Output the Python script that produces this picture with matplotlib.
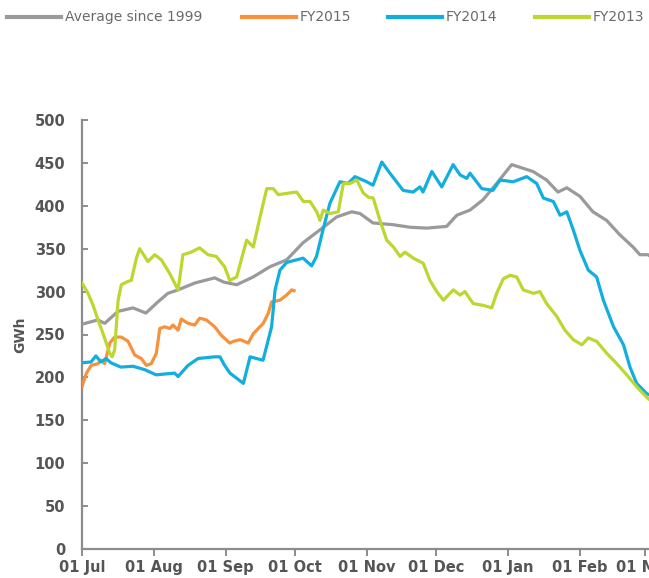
import matplotlib.pyplot as plt
from matplotlib.lines import Line2D

# days counted from 01 Jul
avg_days = [0, 6.9, 9.8, 15.6, 22, 27.6, 32.8, 37.1, 41.5, 48.7, 57.3, 61.3, 66.8, 73.9,
            81.2, 88.4, 95.5, 102.8, 110, 116.5, 120.1, 125.7, 134.3, 141.7, 148.9, 157.5,
            161.9, 167.6, 173.2, 179.1, 185.6, 194.8, 200.7, 205.6, 209.4, 215.1, 220.7,
            226.6, 232.4, 238, 241, 244.5, 248]
avg_vals = [262, 267, 263, 277, 281, 275, 288, 298, 302, 310, 316, 311, 308, 317,
            329, 337, 357, 372, 387, 393, 391, 380, 378, 375, 374, 376,
            389, 395, 407, 426, 448, 440, 430, 416, 421, 411, 393,
            383, 366, 352, 343, 343, 336]

fy15_days = [0, 1.9, 4, 6.9, 8.3, 9.8, 12, 14.1, 17, 19.9, 22.8, 25.6, 27.8, 29.9, 32.1,
             33.6, 35.7, 37.9, 39.3, 41.5, 42.9, 45.8, 48.7, 50.8, 53.7, 57.3, 60.2, 63.8,
             65.4, 68.3, 71.8, 74, 78.3, 80.5, 81.9, 85.5, 88.4, 90.6, 91.6]
fy15_vals = [189, 205, 214, 216, 220, 216, 240, 247, 247, 242, 226, 222, 214, 216, 228,
             257, 259, 257, 261, 255, 268, 263, 261, 269, 267, 259, 249, 240,
             242, 244, 240, 251, 263, 275, 288, 290, 296, 302, 301]

fy14_days = [0, 3.9, 6, 8.2, 10.4, 12.5, 16.8, 22, 27.1, 32, 40, 41.5, 45.8, 50.1, 57.3,
             59.6, 61.6, 63.9, 69.7, 72.6, 78.2, 81.9, 83.4, 85.5, 88.4, 95.5, 99.2, 101.3,
             104.1, 107.1, 111.4, 114.9, 117.9, 123, 125.7, 129.5, 133, 138.7, 143, 146,
             147.3, 151.1, 155.4, 160.3, 163.3, 166.2, 167.6, 172.7, 177.5, 180.6, 186.3,
             192.1, 196.4, 199.3, 203.6, 206.5, 209.4, 212.2, 215.1, 218.7, 222.3, 225.2,
             229.6, 233.9, 236.7, 239.6, 244, 248]
fy14_vals = [217, 218, 225, 218, 222, 217, 212, 213, 209, 203, 205, 201, 214, 222, 224,
             224, 214, 205, 193, 224, 220, 259, 302, 325, 334, 339, 330, 341,
             372, 403, 428, 426, 434, 428, 424, 451, 438, 418, 416, 422,
             416, 440, 422, 448, 436, 432, 438, 420, 418, 430, 428,
             434, 426, 409, 405, 389, 393, 372, 348, 325, 317, 290,
             259, 238, 212, 193, 181, 176]

fy13_days = [0, 2.6, 4.8, 6.9, 9.1, 12, 13, 14.1, 15.6, 17, 19.9, 21.3, 23.5, 24.9, 28.5,
             31.4, 34.3, 37.9, 41.5, 43.6, 47.2, 50.8, 54.4, 58, 61.6, 63.8, 66.8, 71.1,
             74, 76.9, 79.8, 82.6, 84.8, 89.8, 92.7, 95.6, 98.5, 101.4, 102.8, 104.2,
             107.1, 110.7, 112.9, 115.8, 118.7, 121.5, 123.7, 125.8, 128.7, 131.6, 134.5,
             137.4, 139.5, 143.1, 147.4, 150.3, 153.2, 156.1, 160.4, 163.3, 165.4, 169,
             173.3, 177, 179.1, 182, 184.9, 187.8, 190.6, 195, 197.8, 200.7, 205.1, 208.6,
             212.2, 215.9, 218.7, 222.3, 226.7, 231, 235.3, 239.6, 244.6, 248]
fy13_vals = [310, 298, 284, 267, 251, 228, 224, 232, 290, 308, 312, 313, 339, 350, 335,
             343, 337, 321, 302, 343, 346, 351, 343, 341, 329, 313, 317, 360,
             352, 387, 420, 420, 413, 415, 416, 405, 405, 393, 383, 395,
             391, 393, 426, 426, 430, 415, 410, 409, 383, 360, 352,
             341, 346, 339, 333, 313, 300, 290, 302, 296, 300, 286,
             284, 281, 298, 315, 319, 317, 302, 298, 300, 286, 271, 255,
             244, 238, 246, 242, 228, 216, 203, 189, 175, 170]

tick_days = [0, 31, 62, 92, 123, 153, 184, 215, 243]
tick_labels = ["01 Jul", "01 Aug", "01 Sep", "01 Oct", "01 Nov", "01 Dec",
               "01 Jan", "01 Feb", "01 Mar"]

names = ["Average since 1999", "FY2015", "FY2014", "FY2013"]
colors = ["#9a9a9c", "#f7913d", "#12aee0", "#bdd630"]

fig = plt.figure(figsize=(6.49, 5.78), dpi=100)
# axes run past the right edge, the original picture is cropped there
ax = fig.add_axes([82 / 649, 29 / 578, 845 / 649, 429 / 578])

series = [(avg_days, avg_vals), (fy15_days, fy15_vals), (fy14_days, fy14_vals), (fy13_days, fy13_vals)]
order = [0, 3, 2, 1]
for i in order:
    d, v = series[i]
    ax.plot(d, v, color=colors[i], lw=2.3, solid_joinstyle="round", zorder=3 + i)

ax.set_xlim(0, 365)
ax.set_ylim(0, 500)
ax.set_yticks(range(0, 501, 50))
ax.set_xticks(tick_days)
ax.set_xticklabels(tick_labels)

for s in ["top", "right"]:
    ax.spines[s].set_visible(False)
for s in ["left", "bottom"]:
    ax.spines[s].set_color("#8c8c8c")
    ax.spines[s].set_linewidth(1.6)

ax.tick_params(axis="y", direction="in", length=4, width=1.4, color="#8c8c8c",
               labelsize=10.5, labelcolor="#555555", pad=12)
ax.tick_params(axis="x", direction="out", length=5, width=1.4, color="#8c8c8c",
               labelsize=10.5, labelcolor="#555555", pad=3)
for lab in ax.get_xticklabels() + ax.get_yticklabels():
    lab.set_fontweight("bold")

fig.text(20 / 649, 1 - 335 / 578, "GWh", rotation=90, ha="center", va="center",
         fontsize=10, fontweight="bold", color="#555555")

# legend row at top
leg_x = [7, 242, 388, 535]
for i in range(4):
    x0 = leg_x[i] / 649
    y0 = 1 - 17 / 578
    fig.add_artist(Line2D([x0, x0 + 54 / 649], [y0, y0], color=colors[i], lw=3,
                          transform=fig.transFigure))
    fig.text(x0 + 58 / 649, y0, names[i], ha="left", va="center", fontsize=10,
             color="#6a6a6a")

fig.savefig("out.png", dpi=100)
